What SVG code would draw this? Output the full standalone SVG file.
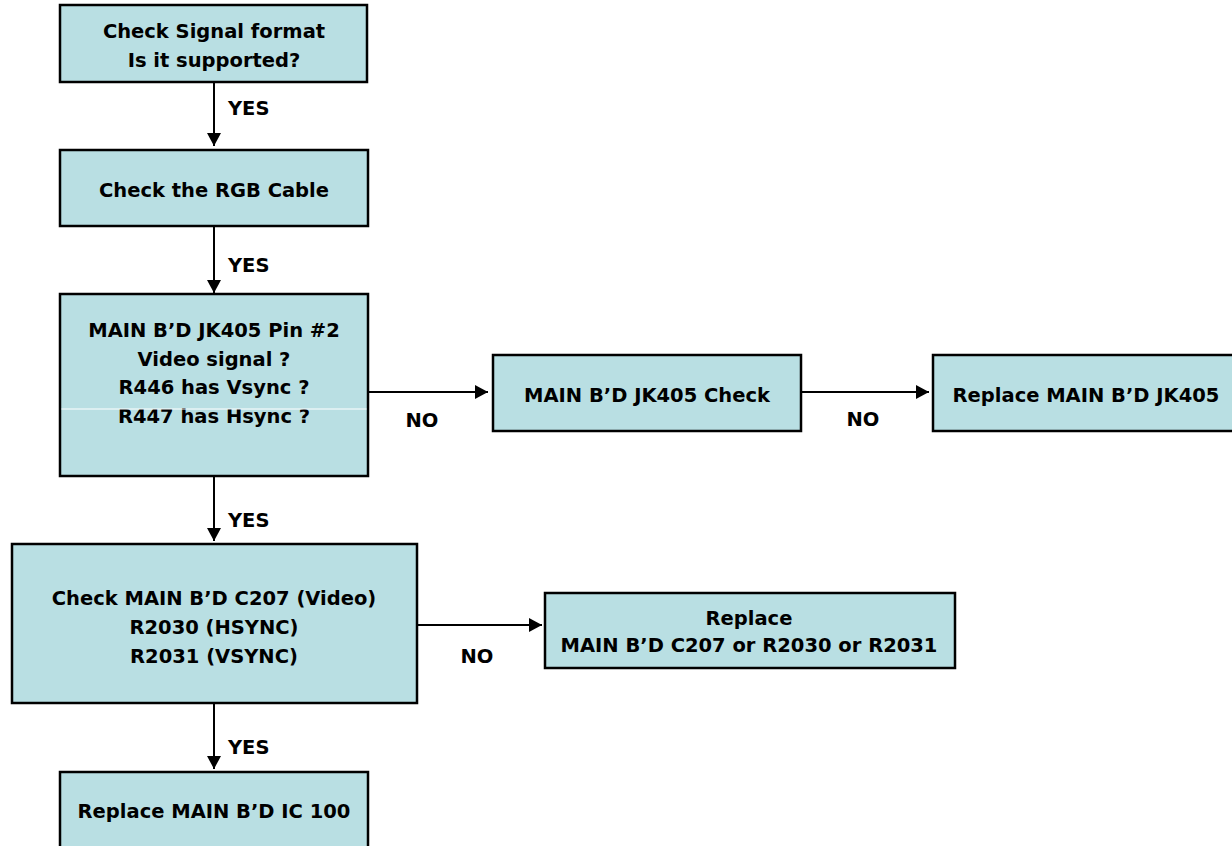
<svg xmlns="http://www.w3.org/2000/svg" width="1232" height="846" viewBox="0 0 1232 846">
<defs>
<style>
.box{fill:#b9dfe3;stroke:#000;stroke-width:2.5}
.t{font-family:"DejaVu Sans",Verdana,sans-serif;font-weight:bold;font-size:19.5px;fill:#000;text-anchor:middle}
.lbl{font-family:"DejaVu Sans",Verdana,sans-serif;font-weight:bold;font-size:19.5px;fill:#000}
.c{stroke:#000;stroke-width:2;fill:none;marker-end:url(#ah)}
</style>
<marker id="ah" markerUnits="userSpaceOnUse" markerWidth="14" markerHeight="14" refX="13" refY="7" orient="auto">
<path d="M0,0 L13,7 L0,14 z" fill="#000"/>
</marker>
</defs>
<rect width="1232" height="846" fill="#fff"/>
<g id="connectors">
<line class="c" x1="214" y1="83" x2="214" y2="146"/>
<line class="c" x1="214" y1="227" x2="214" y2="293"/>
<line class="c" x1="214" y1="477" x2="214" y2="541"/>
<line class="c" x1="214" y1="704" x2="214" y2="769"/>
<line class="c" x1="368" y1="392" x2="488" y2="392"/>
<line class="c" x1="802" y1="392" x2="929" y2="392"/>
<line class="c" x1="418" y1="625" x2="542" y2="625"/>
<text class="lbl" x="228" y="115">YES</text>
<text class="lbl" x="228" y="272">YES</text>
<text class="lbl" x="228" y="527">YES</text>
<text class="lbl" x="228" y="754">YES</text>
<text class="t" x="422" y="427">NO</text>
<text class="t" x="863" y="426">NO</text>
<text class="t" x="477" y="663">NO</text>
</g>
<g id="n1">
<rect class="box" x="60" y="5" width="307" height="77"/>
<text class="t" x="214" y="38">Check Signal format</text>
<text class="t" x="214" y="67">Is it supported?</text>
</g>
<g id="n2">
<rect class="box" x="60" y="150" width="308" height="76"/>
<text class="t" x="214" y="197">Check the RGB Cable</text>
</g>
<g id="n3">
<rect class="box" x="60" y="294" width="308" height="182"/>
<text class="t" x="214" y="337">MAIN B’D JK405 Pin #2</text>
<text class="t" x="214" y="366">Video signal ?</text>
<text class="t" x="214" y="394">R446 has Vsync ?</text>
<text class="t" x="214" y="423">R447 has Hsync ?</text>
<line x1="61.5" y1="409" x2="366.5" y2="409" stroke="#fff" stroke-width="1"/>
</g>
<g id="n4">
<rect class="box" x="493" y="355" width="308" height="76"/>
<text class="t" x="647" y="402">MAIN B’D JK405 Check</text>
</g>
<g id="n5">
<rect class="box" x="933" y="355" width="312" height="76"/>
<text class="t" x="1086" y="402">Replace MAIN B’D JK405</text>
</g>
<g id="n6">
<rect class="box" x="12" y="544" width="405" height="159"/>
<text class="t" x="214" y="605">Check MAIN B’D C207 (Video)</text>
<text class="t" x="214" y="634">R2030 (HSYNC)</text>
<text class="t" x="214" y="663">R2031 (VSYNC)</text>
</g>
<g id="n7">
<rect class="box" x="545" y="593" width="410" height="75"/>
<text class="t" x="749" y="625">Replace</text>
<text class="t" x="749" y="652">MAIN B’D C207 or R2030 or R2031</text>
</g>
<g id="n8">
<rect class="box" x="60" y="772" width="308" height="90"/>
<text class="t" x="214" y="818">Replace MAIN B’D IC 100</text>
</g>
</svg>
